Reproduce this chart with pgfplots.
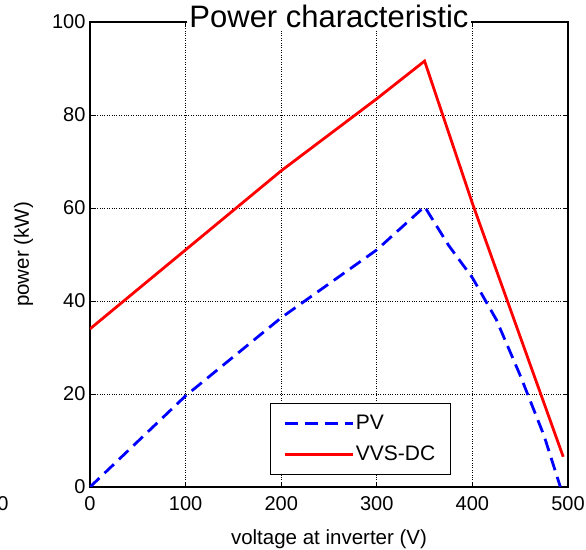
\documentclass[border=0pt]{standalone}
\usepackage{fontspec}
\setmainfont{Liberation Sans}
\usepackage{pgfplots}
\pgfplotsset{compat=1.18}
\usetikzlibrary{calc}
\begin{document}
\begin{tikzpicture}
\begin{axis}[
  name=ax,
  scale only axis,
  width=478pt, height=465pt,
  xmin=0, xmax=500, ymin=0, ymax=100,
  xtick={0,100,...,500}, ytick={0,20,...,100},
  /pgf/number format/assume math mode=true,
  tick label style={font=\fontsize{20}{24}\selectfont},
  xticklabel style={yshift=-6pt},
  yticklabel style={xshift=-1pt},
  grid=major,
  grid style={dotted, black, line width=0.9pt},
  axis line style={line width=1.4pt},
  tick align=inside,
  major tick length=5pt,
  tick style={black, line width=0.8pt},
  xlabel={voltage at inverter (V)},
  ylabel={power (kW)},
  label style={font=\fontsize{20.5}{24}\selectfont},
  xlabel style={yshift=-12pt},
  ylabel style={yshift=12pt},
  legend cell align=left,
  legend style={at={(0.755,0.026)}, anchor=south east, draw=black, line width=1.2pt,
    font=\fontsize{21}{24}\selectfont, inner xsep=13pt, inner ysep=10pt,
    row sep=11pt, /tikz/every even column/.append style={column sep=0pt}},
  legend image code/.code={\draw[#1] (0pt,0pt) -- (68pt,0pt);},
]
\addplot[blue, line width=2.8pt, dash pattern=on 13pt off 7pt] coordinates {
  (0,0) (100,19.6) (200,36.4) (300,51) (350,60.3) (375,52) (400,45) (425,36) (450,24) (475,11) (492,0)
};
\addlegendentry{PV}
\addplot[red, line width=2.8pt] coordinates {
  (0,34) (100,51) (200,68) (300,83.5) (350,91.6) (400,61) (495,6.5)
};
\addlegendentry{VVS-DC}
\end{axis}
\node[font=\fontsize{31}{36}\selectfont, anchor=base, fill=white, inner xsep=2pt, inner ysep=1pt] at ($(ax.north)+(0,-6pt)$) {Power characteristic};
\node[font=\fontsize{20}{24}\selectfont, anchor=center] at ($(ax.south west)+(-87pt,-17pt)$) {0};
\pgfresetboundingbox
\path ($(ax.south west)+(-90pt,-63pt)$) rectangle ($(ax.north east)+(18pt,22pt)$);
\end{tikzpicture}
\end{document}
